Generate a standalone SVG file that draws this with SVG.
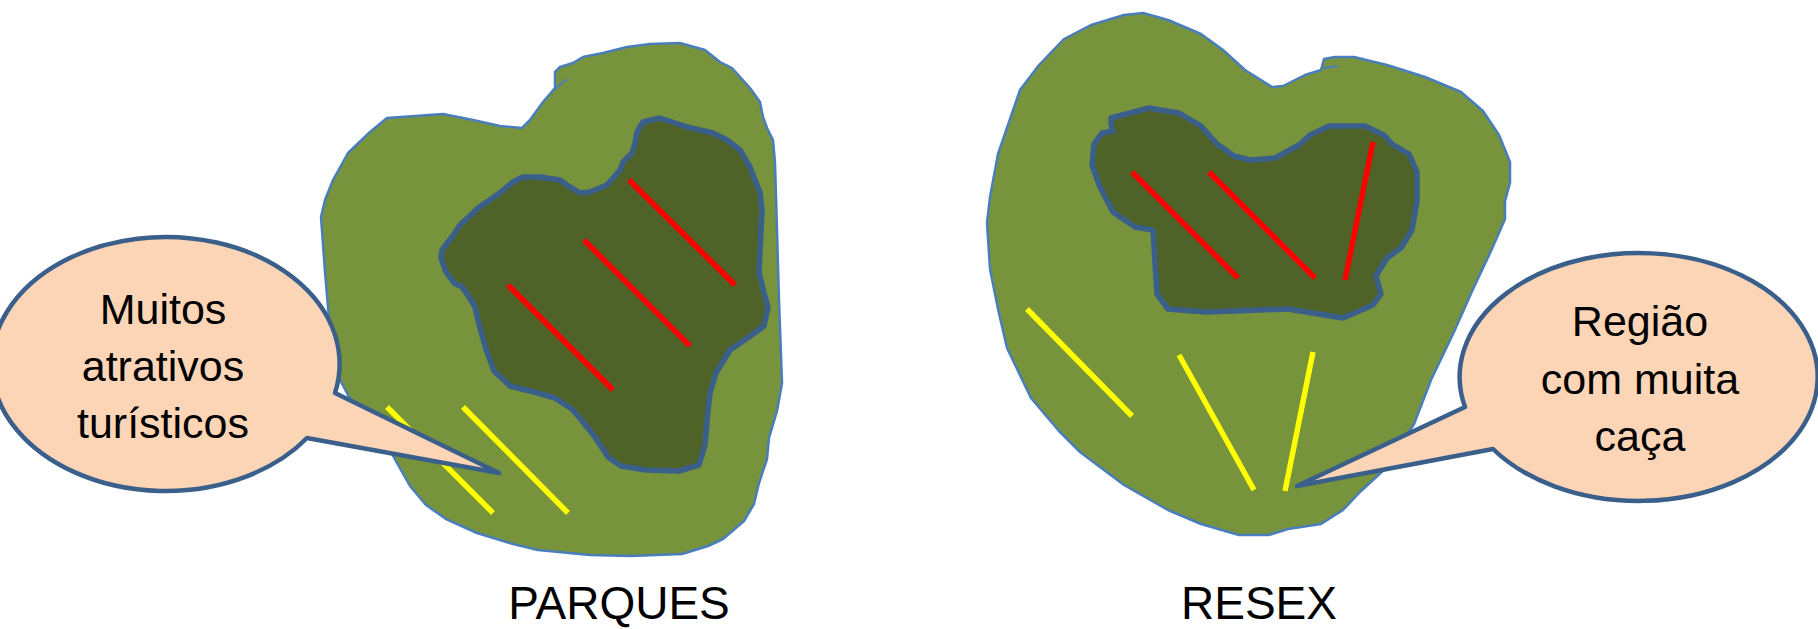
<svg xmlns="http://www.w3.org/2000/svg" width="1818" height="629" viewBox="0 0 1818 629">
<style>
.outer{fill:#77933c;stroke:#4a7ebb;stroke-width:2.5;stroke-linejoin:round}
.inner{fill:#4f6228;stroke:#3a5f8b;stroke-width:5.5;stroke-linejoin:round}
.red{stroke:#ff0000;stroke-width:5.5}
.yel{stroke:#ffff00;stroke-width:5.5}
.callout{fill:#fbd5b5;stroke:#3a5f8b;stroke-width:4.5;stroke-linejoin:round}
.ct{font-family:"Liberation Sans",Arial,sans-serif;font-size:43px;fill:#000;text-anchor:middle}
.lbl{font-family:"Liberation Sans",Arial,sans-serif;font-size:46px;fill:#000;text-anchor:middle}
</style>
<rect width="1818" height="629" fill="#ffffff"/>
<g id="parques">
<path class="outer" d="M603 53 L627 47 L650 44 L680 43 L687 45 L705 50 L720 62 L732 68 L750 88 L760 102 L763 117 L767 128 L773 140 L775 163 L777 230 L779 300 L782 383 L777 411 L769 438 L767 459 L759 483 L754 504 L744 521 L723 539 L708 546 L682 554 L631 556 L590 555 L538 550 L513 544 L477 533 L446 519 L426 505 L410 486 L397 463 L374 421 L349 397 L338 376 L331 341 L328 307 L325 272 L321 217 L325 200 L333 180 L348 153 L370 132 L387 118 L443 114 L473 120 L500 126 L522 128 L530 120 L543 102 L555 88 L555 72 L560 67 L573 63 L583 57 Z"/>
<path d="M555 89 L567 79" fill="none" stroke="#4a7ebb" stroke-width="2"/>
<path class="inner" d="M643 122 L660 118 L687 127 L713 133 L727 140 L740 150 L750 167 L755 180 L760 192 L762 210 L761 230 L760 251 L759 272 L764 293 L768 307 L764 326 L749 337 L730 350 L716 373 L710 393 L708 411 L705 445 L699 465 L679 471 L646 470 L621 466 L608 457 L595 437 L583 422 L572 409 L555 398 L538 393 L510 386 L494 371 L486 349 L480 328 L475 307 L469 297 L462 287 L454 283 L446 272 L441 258 L442 250 L452 237 L460 225 L473 213 L478 208 L497 195 L513 182 L523 177 L540 177 L560 180 L567 185 L580 193 L590 192 L607 185 L620 170 L623 162 L632 153 L635 143 L637 132 Z"/>
<line class="red" x1="629" y1="180" x2="735" y2="285"/>
<line class="red" x1="584" y1="240" x2="690" y2="346"/>
<line class="red" x1="508" y1="285" x2="613" y2="390"/>
<line class="yel" x1="387" y1="407" x2="493" y2="513"/>
<line class="yel" x1="463" y1="407" x2="568" y2="513"/>
</g>
<g id="resex">
<path class="outer" d="M1091 25 L1124 15 L1143 13 L1168 20 L1201 34 L1223 50 L1245 70 L1272 87 L1283 86 L1305 75 L1321 70 L1324 59 L1335 57 L1354 57 L1387 65 L1425 77 L1461 92 L1483 111 L1499 135 L1510 162 L1510 183 L1505 201 L1505 219 L1491 251 L1474 287 L1453 334 L1431 380 L1414 424 L1387 467 L1360 492 L1343 510 L1321 524 L1288 529 L1269 535 L1239 535 L1201 524 L1168 510 L1124 485 L1080 452 L1059 431 L1031 398 L1007 348 L998 309 L990 269 L987 223 L990 197 L998 154 L1009 122 L1020 90 L1039 65 L1064 39 Z"/>
<path d="M1324 68 L1338 66" fill="none" stroke="#4a7ebb" stroke-width="2"/>
<path class="inner" d="M1111 118 L1149 108 L1179 113 L1201 126 L1217 144 L1234 156 L1250 160 L1275 158 L1299 145 L1310 135 L1329 126 L1365 126 L1384 135 L1392 144 L1409 154 L1417 172 L1417 201 L1412 230 L1401 248 L1387 258 L1376 276 L1381 294 L1373 305 L1343 318 L1288 309 L1206 312 L1168 309 L1157 294 L1153 230 L1135 227 L1113 212 L1100 187 L1092 165 L1094 144 L1102 133 L1113 131 L1111 124 Z"/>
<line class="red" x1="1132" y1="172" x2="1238" y2="278"/>
<line class="red" x1="1209" y1="172" x2="1315" y2="278"/>
<line class="red" x1="1373" y1="142" x2="1345" y2="280"/>
<line class="yel" x1="1027" y1="309" x2="1132" y2="416"/>
<line class="yel" x1="1179" y1="355" x2="1254" y2="490"/>
<line class="yel" x1="1313" y1="352" x2="1285" y2="491"/>
</g>
<g id="callout-parques">
<path class="callout" d="M335 393 L499 473 L307 438 A174 127 0 1 1 335 393 Z"/>
<text class="ct" x="163" y="324">Muitos</text>
<text class="ct" x="163" y="381">atrativos</text>
<text class="ct" x="163" y="438">turísticos</text>
</g>
<g id="callout-resex">
<path class="callout" d="M1493 449 L1297 486 L1465 407 A179 124 0 1 1 1493 449 Z"/>
<text class="ct" x="1640" y="336">Região</text>
<text class="ct" x="1640" y="394">com muita</text>
<text class="ct" x="1640" y="451">caça</text>
</g>
<g id="labels">
<text class="lbl" x="619" y="619">PARQUES</text>
<text class="lbl" x="1259" y="619">RESEX</text>
</g>
</svg>
